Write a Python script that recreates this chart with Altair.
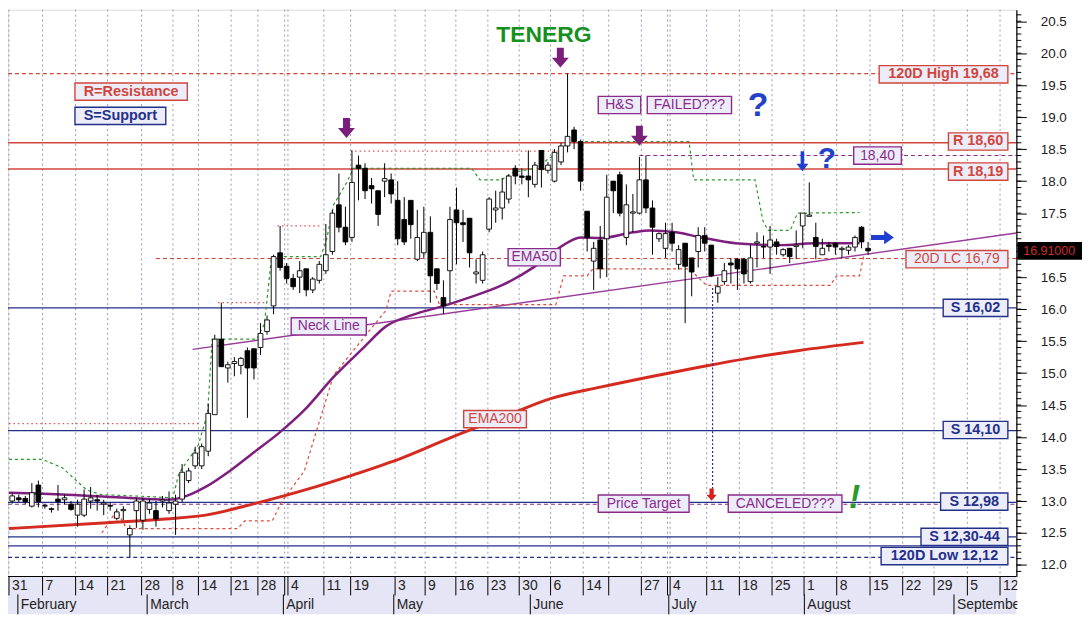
import altair as alt
import pandas as pd
import numpy as np

W, H = 1014, 570
XD = [-0.15, 154.2]
YD = [11.82, 20.68]
FONT = "Liberation Sans"
BG = "#e5e5f5"
BOXFILL = "#ededfa"
RED = "#d0463c"
NAVY = "#23308a"
PURPLE = "#8a2a8a"

# ---------------- daily candles (trading day index 0 = 31 Jan) ----------------
opens = [13.00, 13.05, 13.04, 12.92, 13.25, 12.92, 12.88, 13.03, 13.02, 12.95,
         12.78, 12.78, 13.00, 13.02, 12.95, 12.93, 12.73, 12.85, 12.47, 12.85,
         12.70, 12.87, 12.85, 13.00, 12.85, 12.95, 13.03, 13.32, 13.55, 13.55,
         13.78, 14.35, 15.53, 15.08, 15.15, 15.12, 15.35, 15.38, 15.40, 15.65,
         16.05, 16.88, 16.67, 16.48, 16.50, 16.63, 16.30, 16.45, 16.60, 16.90,
         17.63, 17.28, 17.12, 18.25, 18.20, 17.93, 17.85, 18.00, 18.02, 17.70,
         17.40, 17.70, 16.78, 16.88, 17.20, 16.63, 16.18, 16.60, 17.55, 17.35,
         17.42, 16.55, 16.45, 17.25, 17.55, 17.58, 17.72, 18.20, 18.08, 18.08,
         17.95, 18.48, 18.17, 18.00, 18.30, 18.55, 18.80, 18.62, 17.53, 16.75,
         17.08, 17.10, 18.00, 18.10, 17.12, 17.50, 17.50, 18.02, 17.58, 17.10,
         16.95, 17.20, 16.70, 17.03, 16.80, 16.90, 17.15, 17.00, 16.25, 16.43,
         16.72, 16.78, 16.78, 16.43, 17.03, 16.98, 16.97, 17.05, 16.85, 16.95,
         16.98, 17.30, 17.45, 17.12, 16.85, 17.00, 17.03, 16.93, 16.92, 16.97,
         17.28, 16.95]
highs = [13.12, 13.10, 13.08, 13.28, 13.32, 12.95, 12.90, 13.25, 13.10, 13.00,
         13.02, 13.18, 13.22, 13.10, 13.02, 12.98, 12.88, 12.92, 12.62, 13.05,
         13.05, 13.03, 13.00, 13.08, 13.15, 13.10, 13.58, 13.52, 13.85, 13.90,
         14.52, 15.60, 16.10, 15.18, 15.25, 15.25, 15.40, 15.38, 15.78, 15.90,
         16.85, 17.30, 16.72, 16.55, 16.75, 16.63, 16.50, 16.75, 17.33, 17.55,
         18.12, 17.60, 18.48, 18.40, 18.28, 18.05, 17.85, 18.28, 18.12, 18.00,
         17.75, 17.70, 17.55, 17.60, 17.45, 16.63, 16.45, 17.60, 17.90, 17.55,
         17.42, 16.78, 16.90, 17.75, 17.85, 18.05, 18.10, 18.25, 18.20, 18.48,
         18.30, 18.48, 18.30, 18.50, 18.60, 19.68, 18.85, 18.65, 17.53, 17.05,
         17.30, 18.10, 18.00, 18.15, 17.95, 17.80, 18.38, 18.40, 17.70, 17.20,
         17.35, 17.35, 17.00, 17.03, 16.80, 17.28, 17.28, 17.00, 16.50, 16.72,
         16.80, 16.80, 16.80, 17.00, 17.20, 17.15, 17.30, 17.10, 16.95, 16.95,
         17.23, 17.50, 17.98, 17.35, 17.10, 17.05, 17.05, 16.98, 17.00, 17.15,
         17.30, 17.05]
lows = [12.96, 12.98, 12.95, 12.90, 12.90, 12.88, 12.82, 12.85, 12.95, 12.85,
        12.60, 12.75, 12.88, 12.85, 12.78, 12.85, 12.70, 12.70, 12.12, 12.58,
        12.55, 12.80, 12.60, 12.90, 12.80, 12.47, 12.98, 13.28, 13.50, 13.50,
        13.70, 14.35, 15.10, 14.85, 14.95, 14.98, 14.30, 14.90, 15.28, 15.60,
        15.92, 16.60, 16.40, 16.30, 16.25, 16.20, 16.25, 16.40, 16.55, 16.85,
        17.20, 17.00, 17.05, 17.70, 17.72, 17.65, 17.30, 17.75, 17.65, 17.00,
        17.00, 17.10, 16.75, 16.80, 16.10, 16.30, 15.92, 16.10, 16.70, 17.05,
        16.65, 16.40, 16.40, 17.20, 17.35, 17.40, 17.65, 17.95, 17.95, 17.75,
        17.90, 17.90, 18.12, 17.98, 18.25, 18.45, 18.50, 17.85, 16.90, 16.30,
        16.48, 16.50, 17.50, 17.45, 17.00, 17.20, 17.48, 17.50, 16.85, 17.05,
        16.80, 16.90, 16.62, 15.78, 16.20, 16.65, 16.90, 16.50, 16.10, 16.38,
        16.40, 16.30, 16.40, 16.40, 16.65, 16.80, 16.55, 16.85, 16.82, 16.72,
        16.78, 16.95, 17.45, 16.78, 16.85, 16.90, 16.85, 16.80, 16.85, 16.90,
        16.95, 16.85]
closes = [13.08, 13.02, 12.99, 13.13, 12.99, 12.93, 12.87, 12.99, 13.05, 12.87,
          12.95, 13.03, 13.05, 13.00, 12.97, 12.92, 12.83, 12.87, 12.57, 13.00,
          13.00, 12.97, 12.72, 13.02, 12.97, 13.00, 13.45, 13.47, 13.75, 13.85,
          14.37, 15.53, 15.10, 15.13, 15.18, 15.23, 15.08, 15.08, 15.62, 15.83,
          16.82, 16.65, 16.48, 16.35, 16.60, 16.30, 16.47, 16.70, 16.85, 17.50,
          17.28, 17.05, 17.98, 18.20, 17.85, 17.88, 17.48, 18.04, 17.80, 17.10,
          17.05, 17.32, 17.12, 17.20, 16.52, 16.40, 16.05, 17.40, 17.35, 17.32,
          16.88, 16.58, 16.85, 17.72, 17.58, 17.83, 18.08, 18.08, 18.06, 18.02,
          18.25, 18.18, 18.25, 18.45, 18.55, 18.70, 18.62, 18.00, 17.12, 16.95,
          16.63, 17.75, 17.85, 17.50, 17.63, 17.52, 18.02, 17.58, 17.28, 17.18,
          17.18, 17.03, 16.93, 16.67, 16.58, 17.15, 17.03, 16.52, 16.35, 16.60,
          16.69, 16.63, 16.55, 16.80, 17.05, 16.97, 17.08, 16.98, 16.93, 16.82,
          17.00, 17.50, 17.47, 16.98, 16.95, 16.98, 16.97, 16.95, 16.97, 17.12,
          17.05, 16.91]

# ---------------- indicator series ----------------
ema50_day = [0, 8.9, 18, 24, 26.3, 30.1, 33.8, 37.6, 41.4, 45.2, 49.7, 54.2, 57.7, 61.8,
             65.9, 70.4, 75.4, 80.4, 84.4, 87.5, 90.5, 95.5, 98.0, 102.1, 106.0, 111.2,
             118.1, 123.3, 130.2]
ema50_val = [13.13, 13.10, 13.05, 13.02, 13.05, 13.22, 13.47, 13.77, 14.07, 14.42, 14.94,
             15.39, 15.73, 15.91, 16.03, 16.18, 16.37, 16.66, 16.97, 17.12, 17.11, 17.20,
             17.23, 17.20, 17.12, 17.03, 17.00, 17.03, 17.03]
ema200_day = [0, 15, 24, 30.1, 37.6, 45.2, 52.7, 60.3, 67.8, 75.4, 82.9, 90.5, 98,
              105.6, 113.1, 120.7, 130.8]
ema200_val = [12.57, 12.66, 12.72, 12.78, 12.96, 13.17, 13.41, 13.68, 14.0, 14.3, 14.6,
              14.78, 14.94, 15.09, 15.23, 15.35, 15.48]
green_day = [0, 5.14, 8.16, 11.93, 14.2, 21.45, 25.08, 26.0, 27.0, 29.0, 30.4, 31.1, 37.9,
             39.1, 40.2, 47.7, 48.6, 49.7, 51.7, 52.7, 70.8, 72.1, 75.4, 76.9, 80.4, 84.4,
             85.5, 104.1, 104.8, 114.2, 115.4, 116.2, 119.6, 120.7, 130.2]
green_val = [13.65, 13.65, 13.52, 13.17, 13.10, 13.07, 13.05, 13.43, 13.58, 13.88, 14.37,
             15.53, 15.53, 15.77, 16.82, 16.82, 17.08, 17.63, 17.98, 18.20, 18.20, 18.02,
             18.02, 18.13, 18.20, 18.47, 18.62, 18.62, 18.02, 18.02, 17.38, 17.23, 17.23,
             17.50, 17.51]
hh_seg = [1, 1, 2, 2, 3, 3, 4, 4]
hh_day = [0, 29.0, 32.0, 39.4, 41.1, 47.7, 52.3, 84.0]
hh_val = [14.21, 14.21, 16.10, 16.10, 17.30, 17.30, 18.47, 18.47]
low_day = [14.2, 16.5, 18.0, 19.0, 35.0, 36.1, 40.3, 41.7, 45.2, 49.7, 55.7, 57.7, 58.5,
           65.1, 65.9, 83.7, 84.9, 88.5, 89.4, 104.1, 106.8, 125.7, 126.7, 130.2, 130.8]
low_val = [12.50, 12.85, 12.57, 12.57, 12.57, 12.69, 12.69, 12.98, 13.47, 14.97, 15.73,
           15.98, 16.28, 16.28, 16.07, 16.07, 16.52, 16.52, 16.63, 16.63, 16.37, 16.37,
           16.52, 16.52, 16.82]
neck_day = [28.1, 154.2]
neck_val = [15.37, 17.19]

# ---------------- axis labels ----------------
tick_pos = [0, 5.14, 10.2, 15.1, 20.3, 25.1, 29.0, 34.0, 38.1, 42.2, 42.7, 48.2, 52.3,
            59.1, 63.7, 68.4, 73.3, 78.1, 82.9, 87.9, 91.8, 96.8, 100.8, 101.2, 106.8,
            111.8, 116.8, 121.7, 126.7, 131.8, 136.8, 141.6, 146.7, 151.7]
tick_lbl = ["31", "7", "14", "21", "28", "8", "14", "21", "28", "", "4", "11", "19",
            "3", "9", "16", "23", "30", "6", "14", "", "27", "", "4", "11",
            "18", "25", "1", "8", "15", "22", "29", "5", "12"]
month_pos = [1.36, 21.15, 42.0, 58.9, 79.8, 101.0, 121.75, 144.65]
month_lbl = ["February", "March", "April", "May", "June", "July", "August", "September"]
yticks = [round(12.0 + 0.5 * k, 1) for k in range(18)]
yminor = [round(11.9 + 0.1 * k, 1) for k in range(88)]
last_price = 16.91

# ---------------- level lines ----------------
lv_price = [18.60, 18.19, 19.68, 18.40, 16.79, 16.02, 14.10, 12.98, 12.95, 12.44, 12.30, 12.12]
lv_from = [XD[0], XD[0], XD[0], 96.5, 22.5, XD[0], XD[0], XD[0], XD[0], XD[0], XD[0], XD[0]]
lv_color = [RED, RED, RED, PURPLE, RED, NAVY, NAVY, NAVY, PURPLE, NAVY, NAVY, NAVY]
lv_dash = [None, None, [4, 3], [4, 3], [4, 3], None, None, None, [4, 3], None, None, [4, 3]]

# ---------------- boxed annotations ----------------
box_text = ["R=Resistance", "S=Support", "120D High 19,68", "H&S", "FAILED???", "R 18,60",
            "18,40", "R 18,19", "EMA50", "20D LC 16,79", "S 16,02", "Neck Line", "EMA200",
            "S 14,10", "Price Target", "CANCELED???", "S 12,98", "S 12,30-44", "120D Low 12,12"]
box_x0 = [10.1, 10.1, 133.2, 90.2, 97.7, 143.8, 129.3, 143.8, 76.4, 137.3, 143.0, 43.2, 69.6,
          143.0, 90.2, 110.1, 142.6, 139.6, 133.5]
box_x1 = [27.3, 24.0, 152.9, 96.7, 110.6, 152.9, 136.6, 152.9, 84.4, 152.9, 152.9, 54.7, 79.2,
          152.9, 104.1, 127.5, 152.9, 152.9, 152.9]
box_y = [19.40, 19.02, 19.67, 19.19, 19.19, 18.62, 18.40, 18.15, 16.81, 16.78, 16.02, 15.73,
         14.28, 14.11, 12.96, 12.96, 12.99, 12.44, 12.14]
box_color = [RED, NAVY, RED, PURPLE, PURPLE, RED, PURPLE, RED, PURPLE, RED, NAVY, PURPLE, RED,
             NAVY, PURPLE, PURPLE, NAVY, NAVY, NAVY]
box_bold = [1, 1, 1, 0, 0, 1, 0, 1, 0, 0, 1, 0, 0, 1, 0, 0, 1, 1, 1]

xs = alt.Scale(domain=XD, nice=False, zero=False)
ys = alt.Scale(domain=YD, nice=False, zero=False)
# the 17.0 label sits under the last-price box, as in the original
YAX = alt.Axis(orient="right", values=yticks, tickSize=10, tickColor="black",
               labelExpr="abs(datum.value - 17) < 0.01 ? '' : format(datum.value, '.1f')",
               domainColor="black", domainWidth=1.2, labelPadding=14, labelFontSize=13.5,
               labelFont=FONT, labelColor="#222", grid=False, title=None)


def X(f):
    return alt.X(f"{f}:Q", scale=xs, axis=None)


def Y(f):
    return alt.Y(f"{f}:Q", scale=ys, axis=YAX)


layers = []

# bottom axis strip background
one = pd.DataFrame({"a": [0]})
layers.append(alt.Chart(one).mark_rect(fill=BG).encode(
    x=alt.value(0), x2=alt.value(W), y=alt.value(H), y2=alt.value(H + 38)))

# vertical dotted grid
tk = pd.DataFrame({"t": tick_pos, "lab": tick_lbl})
layers.append(alt.Chart(tk).mark_rule(color="#9a9ab0", strokeDash=[2, 3], strokeWidth=1).encode(
    x=X("t"), y=alt.value(0), y2=alt.value(H)))

# level lines
for p, f, c, d in zip(lv_price, lv_from, lv_color, lv_dash):
    dd = pd.DataFrame({"p": [p], "x0": [f], "x1": [XD[1]]})
    kw = dict(color=c, strokeWidth=1.3)
    if d:
        kw["strokeDash"] = d
        kw["strokeWidth"] = 1.1
    layers.append(alt.Chart(dd).mark_rule(**kw).encode(x=X("x0"), x2="x1:Q", y=Y("p")))


def line(xv, yv, color, width, dash=None, interp="linear", seg=None):
    d = pd.DataFrame({"x": xv, "y": yv, "k": list(range(len(xv)))})
    kw = dict(color=color, strokeWidth=width, interpolate=interp)
    if dash:
        kw["strokeDash"] = dash
    enc = dict(x=X("x"), y=Y("y"), order="k:Q")
    if seg is not None:
        d["s"] = seg
        enc["detail"] = "s:N"
    return alt.Chart(d).mark_line(**kw).encode(**enc)


layers.append(line(neck_day, neck_val, "#9a3c9a", 1.4))
layers.append(line(hh_day, hh_val, "#e05050", 1.3, dash=[1.5, 3], seg=hh_seg))
layers.append(line(low_day, low_val, "#e04a3a", 1.2, dash=[3, 3]))
layers.append(line(green_day, green_val, "#2a9a2a", 1.2, dash=[3, 3]))
layers.append(line(ema200_day, ema200_val, "#d42a20", 3, interp="monotone"))
layers.append(line(ema50_day, ema50_val, "#7e1f7e", 2.5, interp="monotone"))

# vertical price-target projection
vd = pd.DataFrame({"x": [107.7], "a": [16.33], "b": [13.13]})
layers.append(alt.Chart(vd).mark_rule(color=NAVY, strokeDash=[2, 2], strokeWidth=1.2).encode(
    x=X("x"), y=Y("a"), y2="b:Q"))

# candles
cd = pd.DataFrame({"o": opens, "h": highs, "l": lows, "c": closes})
cd["d"] = cd.index + 0.5
cd["x0"] = cd["d"] - 0.36
cd["x1"] = cd["d"] + 0.36
cd["fill"] = np.where(cd["c"] >= cd["o"], "white", "black")
layers.append(alt.Chart(cd).mark_rule(color="black", strokeWidth=1).encode(
    x=X("d"), y=Y("l"), y2="h:Q"))
layers.append(alt.Chart(cd).mark_rect(stroke="black", strokeWidth=0.9).encode(
    x=X("x0"), x2="x1:Q", y=Y("o"), y2="c:Q", fill=alt.Color("fill:N", scale=None)))

# boxed labels
bx = pd.DataFrame({"t": box_text, "x0": box_x0, "x1": box_x1, "p": box_y,
                   "col": box_color, "b": box_bold})
bx["y0"] = bx["p"] - 0.135
bx["y1"] = bx["p"] + 0.135
bx["xm"] = (bx["x0"] + bx["x1"]) / 2
layers.append(alt.Chart(bx).mark_rect(fill=BOXFILL, strokeWidth=1.4).encode(
    x=X("x0"), x2="x1:Q", y=Y("y0"), y2="y1:Q", stroke=alt.Color("col:N", scale=None)))
layers.append(alt.Chart(bx[bx.b == 1]).mark_text(font=FONT, fontSize=14.5, fontWeight="bold",
                                                 baseline="middle").encode(
    x=X("xm"), y=Y("p"), text="t:N", color=alt.Color("col:N", scale=None)))
layers.append(alt.Chart(bx[bx.b == 0]).mark_text(font=FONT, fontSize=14, baseline="middle").encode(
    x=X("xm"), y=Y("p"), text="t:N", color=alt.Color("col:N", scale=None)))

# arrows
DOWN = "M-0.35,-1L0.35,-1L0.35,0L0.85,0L0,1L-0.85,0L-0.35,0Z"
SLIM = "M-0.18,-1L0.18,-1L0.18,0.25L0.6,0.25L0,1L-0.6,0.25L-0.18,0.25Z"
RIGHT = "M-1,-0.22L0.15,-0.22L0.15,-0.6L1,0L0.15,0.6L0.15,0.22L-1,0.22Z"
arrows = [(51.66, 18.83, DOWN, 400, "#7a1f7a"), (84.4, 19.93, DOWN, 400, "#7a1f7a"),
          (96.5, 18.71, DOWN, 400, "#7a1f7a"), (121.45, 18.31, SLIM, 400, "#1f3fd0"),
          (133.7, 17.12, RIGHT, 529, "#1f3fd0"), (107.55, 13.10, DOWN, 150, "#d82020")]
for ax_, ay_, shp, sz, col in arrows:
    ad = pd.DataFrame({"x": [ax_], "y": [ay_]})
    layers.append(alt.Chart(ad).mark_point(shape=shp, size=sz, filled=True, opacity=1,
                                           color=col, strokeWidth=0).encode(x=X("x"), y=Y("y")))

# free texts
ft = [("TENERG", 81.87, 20.29, "#16901e", 23, "bold", "normal"),
      ("?", 114.65, 19.18, "#2342c8", 34, "bold", "normal"),
      ("?", 125.2, 18.34, "#2342c8", 30, "bold", "normal"),
      ("!", 129.45, 13.05, "#2a9a2a", 34, "bold", "italic")]
for t, tx, ty, col, fs, fw, st in ft:
    td = pd.DataFrame({"x": [tx], "y": [ty], "t": [t]})
    layers.append(alt.Chart(td).mark_text(font=FONT, fontSize=fs, fontWeight=fw, fontStyle=st,
                                          color=col, baseline="middle").encode(
        x=X("x"), y=Y("y"), text="t:N"))

# bottom axis: day row + month row
layers.append(alt.Chart(one).mark_rule(color="black", strokeWidth=1.2).encode(
    x=alt.value(0), x2=alt.value(W), y=alt.value(H)))
layers.append(alt.Chart(tk).mark_rule(color="black", strokeWidth=1).encode(
    x=X("t"), y=alt.value(H), y2=alt.value(H + 19)))
layers.append(alt.Chart(tk).mark_text(font=FONT, fontSize=14, align="left", dx=3,
                                      baseline="middle", color="#222").encode(
    x=X("t"), y=alt.value(H + 10), text="lab:N"))
mo = pd.DataFrame({"m": month_pos, "lab": month_lbl})
layers.append(alt.Chart(mo).mark_rule(color="black", strokeWidth=1).encode(
    x=X("m"), y=alt.value(H + 18), y2=alt.value(H + 38)))
layers.append(alt.Chart(mo).mark_text(font=FONT, fontSize=14, align="left", dx=3,
                                      baseline="middle", color="#222").encode(
    x=X("m"), y=alt.value(H + 29), text="lab:N"))
# white area right of the date strip
layers.append(alt.Chart(one).mark_rect(fill="white").encode(
    x=alt.value(W + 1), x2=alt.value(W + 70), y=alt.value(H + 1), y2=alt.value(H + 40)))

# right price axis minor ticks
yt = pd.DataFrame({"p": yminor})
layers.append(alt.Chart(yt).mark_rule(color="black", strokeWidth=1).encode(
    x=alt.value(W), x2=alt.value(W + 5), y=Y("p")))

# last price box
lp = pd.DataFrame({"a": [last_price - 0.14], "b": [last_price + 0.14], "m": [last_price],
                   "t": ["16.91000"]})
layers.append(alt.Chart(lp).mark_rect(fill="black").encode(
    x=alt.value(W + 1), x2=alt.value(W + 66), y=Y("a"), y2="b:Q"))
layers.append(alt.Chart(lp).mark_text(font=FONT, fontSize=12.5, color="#d02a2a",
                                      baseline="middle").encode(
    x=alt.value(W + 33), y=Y("m"), text="t:N"))

chart = alt.layer(*layers).properties(
    width=W, height=H,
    autosize=alt.AutoSizeParams(type="none"),
    padding={"left": 0, "top": 0, "right": 66, "bottom": 40},
).configure_view(fill=BG, stroke=None).configure(background="white")

chart.save("out.html", embed_options={"renderer": "svg", "actions": False})
